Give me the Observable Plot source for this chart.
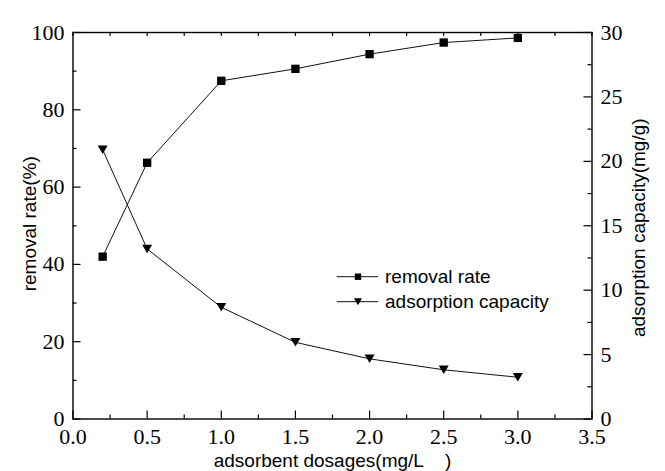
<!DOCTYPE html>
<html><head><meta charset="utf-8">
<script src="https://cdn.jsdelivr.net/npm/d3@7"></script>
<script src="https://cdn.jsdelivr.net/npm/@observablehq/plot@0.6"></script>
<style>
body{margin:0;background:#fff}
#wrap{position:relative;width:665px;height:471px}
#legend{position:absolute;left:0;top:0;pointer-events:none}
#wrap g[aria-label$="tick label"], #wrap g[aria-label$="tick label"] text{font-family:"Liberation Serif","Times New Roman",serif !important;}
</style>
</head><body><div id="wrap"></div>
<script>
const dosages = [0.2, 0.5, 1.0, 1.5, 2.0, 2.5, 3.0];
const removalRate = [42.0, 66.3, 87.5, 90.6, 94.4, 97.4, 98.6];
const adsorptionCapacity = [20.9, 13.2, 8.67, 5.95, 4.67, 3.82, 3.24];
const xTicks = [0, 0.5, 1.0, 1.5, 2.0, 2.5, 3.0, 3.5];
const xMinorTicks = [0.25, 0.75, 1.25, 1.75, 2.25, 2.75, 3.25];
const leftTicks = [0, 20, 40, 60, 80, 100];
const leftMinorTicks = [10, 30, 50, 70, 90];
const rightTicks = [0, 5, 10, 15, 20, 25, 30];
const rightMinorTicks = [2.5, 7.5, 12.5, 17.5, 22.5, 27.5];
const seriesNames = ["removal rate", "adsorption capacity"];
const xTitle = "adsorbent dosages(mg/L\u00a0\u00a0\u00a0\u00a0)";
const yLeftTitle = "removal rate(%)";
const yRightTitle = "adsorption capacity(mg/g)";
const LEFT_MAX = 100, RIGHT_MAX = 30;

const W = 665, H = 471;
const mL = 72.5, mR = 73.5, mT = 32, mB = 52.5;
const PW = W - mL - mR, PH = H - mT - mB;
const toLeft = v => v * LEFT_MAX / RIGHT_MAX;

const removalData = dosages.map((x, i) => ({x, y: removalRate[i]}));
const capacityData = dosages.map((x, i) => ({x, y: toLeft(adsorptionCapacity[i])}));

const triDown = {draw(ctx, size){
  const r = Math.sqrt(size / Math.PI), w = r * 1.06, h = r * 0.9;
  ctx.moveTo(-w, -h); ctx.lineTo(w, -h); ctx.lineTo(0, h); ctx.closePath();
}};

const serif = "Liberation Serif";
const sans = "Liberation Sans";

const chart = Plot.plot({
  width: W, height: H,
  marginLeft: mL, marginRight: mR, marginTop: mT, marginBottom: mB,
  style: {background: "#fff", fontFamily: sans, color: "#000", overflow: "visible"},
  x: {domain: [0, 3.5]},
  y: {domain: [0, LEFT_MAX]},
  marks: [
    Plot.tickX(xTicks, {x: d => d, insetTop: PH - 8, stroke: "#000", strokeWidth: 1.2}),
    Plot.tickX(xMinorTicks, {x: d => d, insetTop: PH - 4, stroke: "#000", strokeWidth: 1.2}),
    Plot.tickX(xTicks.concat(xMinorTicks), {x: d => d, insetBottom: PH - 4, stroke: "#000", strokeWidth: 1.2}),
    Plot.tickY(leftTicks, {y: d => d, insetRight: PW - 8, stroke: "#000", strokeWidth: 1.2}),
    Plot.tickY(leftMinorTicks, {y: d => d, insetRight: PW - 4, stroke: "#000", strokeWidth: 1.2}),
    Plot.tickY(rightTicks.map(toLeft), {y: d => d, insetLeft: PW - 8, stroke: "#000", strokeWidth: 1.2}),
    Plot.tickY(rightMinorTicks.map(toLeft), {y: d => d, insetLeft: PW - 4, stroke: "#000", strokeWidth: 1.2}),
    Plot.frame({stroke: "#000", strokeWidth: 1.4}),
    Plot.axisX({ticks: xTicks, tickSize: 0, tickPadding: 9, tickFormat: d3.format(".1f"), fontSize: 22, fontFamily: serif, label: null}),
    Plot.axisY({anchor: "left", ticks: leftTicks, tickSize: 0, tickPadding: 8.5, tickFormat: d => d, fontSize: 22, fontFamily: serif, label: null}),
    Plot.axisY({anchor: "right", ticks: rightTicks.map(toLeft), tickSize: 0, tickPadding: 8.5, tickFormat: d => Math.round(d * RIGHT_MAX / LEFT_MAX), fontSize: 22, fontFamily: serif, label: null}),
    Plot.text([xTitle], {text: d => d, frameAnchor: "bottom", lineAnchor: "middle", textAnchor: "middle", dy: 41.5, fontSize: 19, fontFamily: sans, fill: "#000"}),
    Plot.text([yLeftTitle], {text: d => d, frameAnchor: "left", textAnchor: "middle", lineAnchor: "middle", dx: -43.5, dy: -2, rotate: -90, fontSize: 19, fontFamily: sans, fill: "#000"}),
    Plot.text([yRightTitle], {text: d => d, frameAnchor: "right", textAnchor: "middle", lineAnchor: "middle", dx: 46.5, dy: 2, rotate: -90, fontSize: 19, fontFamily: sans, fill: "#000"}),
    Plot.line(removalData, {x: "x", y: "y", stroke: "#111", strokeWidth: 1}),
    Plot.line(capacityData, {x: "x", y: "y", stroke: "#111", strokeWidth: 1}),
    Plot.dot(removalData, {x: "x", y: "y", symbol: "square", r: 4.7, fill: "#000", stroke: "none"}),
    Plot.dot(capacityData, {x: "x", y: "y", symbol: triDown, r: 4.7, fill: "#000", stroke: "none"})
  ]
});
const wrap = document.getElementById("wrap");
wrap.appendChild(chart);

const leg = d3.select(wrap).append("svg").attr("id", "legend").attr("width", W).attr("height", H);
const rows = [{y: 276.7, sym: "square"}, {y: 301.7, sym: "tri"}];
rows.forEach((r, i) => {
  const g = leg.append("g");
  g.append("line").attr("x1", 336.7).attr("x2", 378).attr("y1", r.y).attr("y2", r.y).attr("stroke", "#111").attr("stroke-width", 1);
  if (r.sym === "square") {
    g.append("rect").attr("x", 358 - 3.2).attr("y", r.y - 3.2).attr("width", 6.4).attr("height", 6.4).attr("fill", "#000");
  } else {
    g.append("path").attr("d", `M${358-4},${r.y-3.5}L${358+4},${r.y-3.5}L358,${r.y+3.5}Z`).attr("fill", "#000");
  }
  g.append("text").attr("x", 385).attr("y", r.y).attr("dy", "0.35em").attr("font-size", 19).attr("font-family", sans).attr("fill", "#000").text(seriesNames[i]);
});
</script>
</body></html>
